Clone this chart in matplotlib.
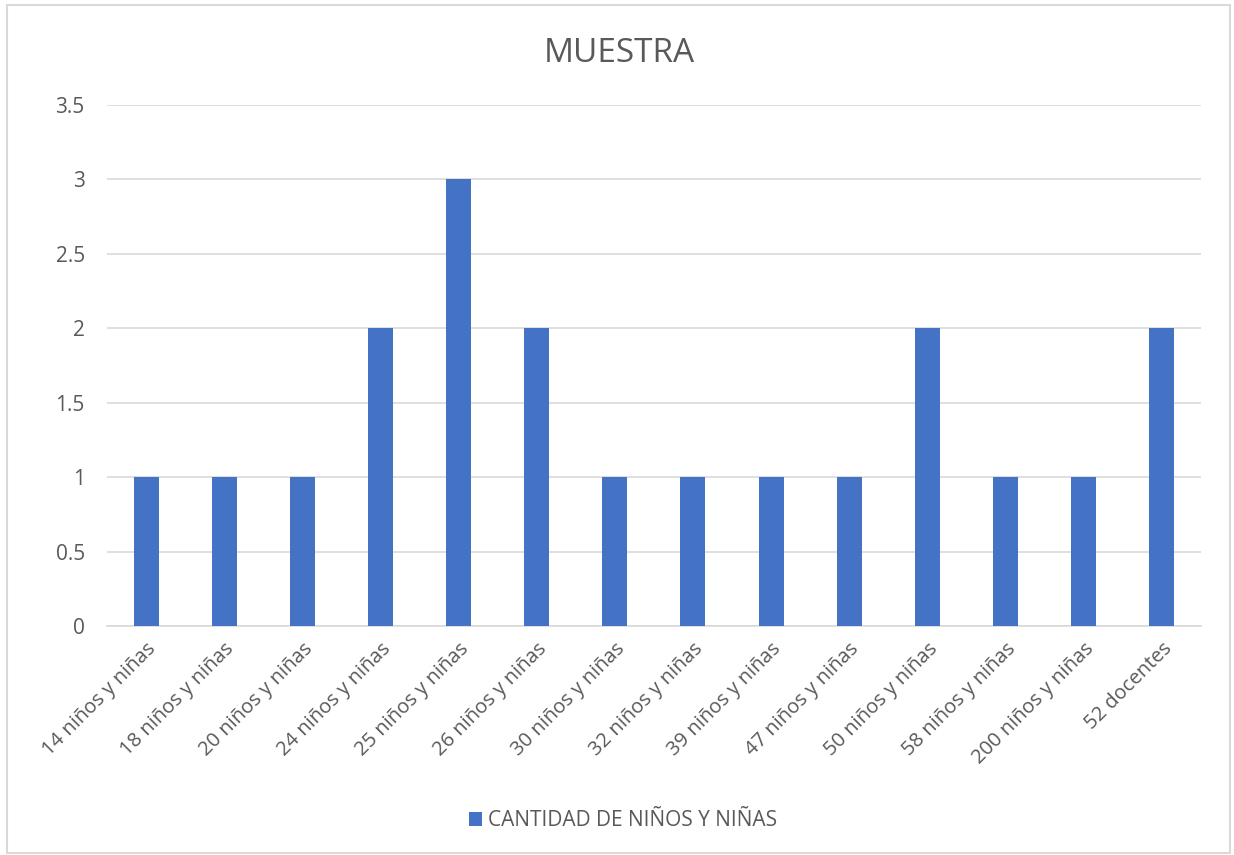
import matplotlib.pyplot as plt
from matplotlib.patches import Rectangle
import numpy as np

categorias = ["14 niños y niñas", "18 niños y niñas", "20 niños y niñas", "24 niños y niñas",
              "25 niños y niñas", "26 niños y niñas", "30 niños y niñas", "32 niños y niñas",
              "39 niños y niñas", "47 niños y niñas", "50 niños y niñas", "58 niños y niñas",
              "200 niños y niñas", "52 docentes"]
cantidad = [1, 1, 1, 2, 3, 2, 1, 1, 1, 1, 2, 1, 1, 2]
serie = "CANTIDAD DE NIÑOS Y NIÑAS"
titulo = "MUESTRA"

plt.rcParams['font.family'] = ['Open Sans', 'DejaVu Sans']
txt = '#595959'

fig = plt.figure(figsize=(12.34, 8.55), dpi=100)
ax = fig.add_axes([0.0867, 0.2678, 0.8863, 0.6094])

# marco del grafico
fig.patches.append(Rectangle((0.006, 0.002), 0.991, 0.992, transform=fig.transFigure,
                             fill=False, edgecolor='#d9d9d9', linewidth=1.5))

x = np.arange(len(categorias))
ax.bar(x, cantidad, width=0.32, color='#4472c4', label=serie, zorder=3)

ax.set_xlim(-0.5, len(categorias) - 0.5)
ax.set_ylim(0, 3.5)
ax.set_yticks(np.arange(0, 3.51, 0.5))
ax.set_yticklabels(['0', '0.5', '1', '1.5', '2', '2.5', '3', '3.5'])
ax.grid(axis='y', color='#d9d9d9', linewidth=1.2, zorder=0)
for s in ['top', 'right', 'left']:
    ax.spines[s].set_visible(False)
ax.spines['bottom'].set_color('#d9d9d9')
ax.spines['bottom'].set_linewidth(1.2)
ax.tick_params(axis='both', length=0, colors=txt, labelsize=15)
ax.tick_params(axis='y', pad=16)
ax.tick_params(axis='x', pad=9, labelsize=14.5)

ax.set_xticks(x)
ax.set_xticklabels(categorias, rotation=45, ha='right', rotation_mode='anchor')

fig.text(0.502, 0.938, titulo, fontsize=24, color=txt, ha='center', va='center')

fig.legend(loc='center', bbox_to_anchor=(0.505, 0.04), frameon=False, fontsize=15,
           labelcolor=txt, handlelength=0.6, handleheight=0.6, handletextpad=0.3)

fig.savefig('out.png', dpi=100)
